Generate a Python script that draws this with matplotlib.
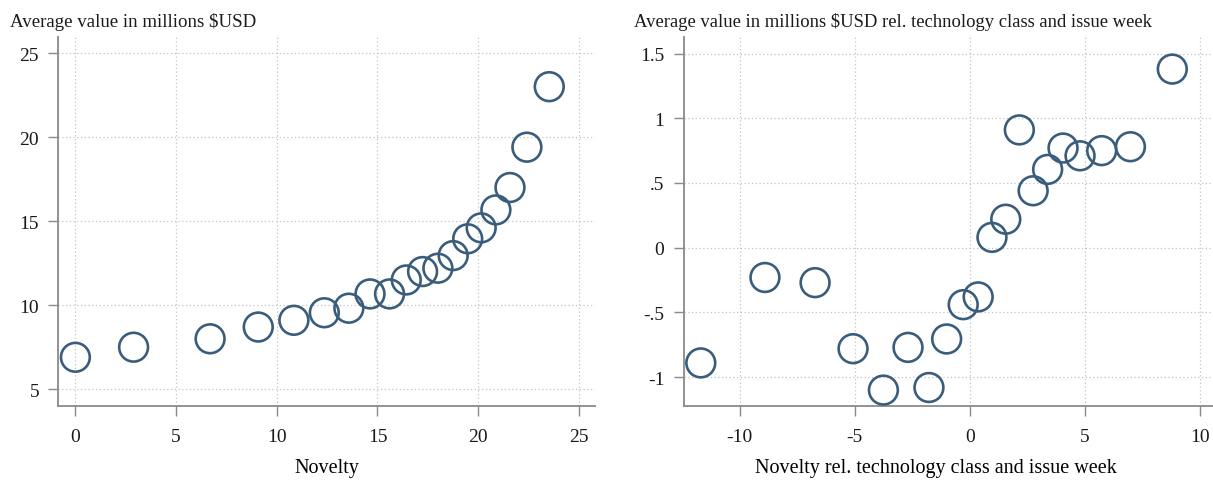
import matplotlib
matplotlib.use("Agg")
import matplotlib.pyplot as plt

# binned means: raw novelty vs value
novelty = [0.0, 2.89, 6.69, 9.08, 10.85, 12.36, 13.58, 14.63, 15.6, 16.43,
           17.24, 18.0, 18.76, 19.48, 20.15, 20.88, 21.58, 22.42, 23.53]
value = [6.9, 7.5, 8.0, 8.7, 9.1, 9.55, 9.82, 10.67, 10.67, 11.5,
         12.0, 12.2, 12.95, 13.95, 14.6, 15.67, 17.0, 19.4, 23.0]

# binned means: residualised on technology class and issue week
novelty_rel = [-11.69, -8.90, -6.72, -5.07, -3.75, -2.68, -1.77, -1.0, -0.28, 0.37,
               0.97, 1.57, 2.16, 2.76, 3.39, 4.06, 4.80, 5.74, 6.99, 8.81]
value_rel = [-0.89, -0.23, -0.27, -0.78, -1.10, -0.77, -1.08, -0.705, -0.44, -0.38,
             0.08, 0.22, 0.91, 0.44, 0.605, 0.77, 0.71, 0.75, 0.78, 1.38]

left_xticks = [0, 5, 10, 15, 20, 25]
left_yticks = [5, 10, 15, 20, 25]
right_xticks = [-10, -5, 0, 5, 10]
right_yticks = [-1, -0.5, 0, 0.5, 1, 1.5]
right_ylabels = ["-1", "-.5", "0", ".5", "1", "1.5"]

MARKER = "#3b5d7c"
AXIS = "#8a8a8a"
plt.rcParams["font.family"] = ["Liberation Serif", "DejaVu Serif"]
plt.rcParams["text.color"] = "#1a1a1a"
plt.rcParams["axes.unicode_minus"] = False

fig = plt.figure(figsize=(12.13, 4.81), dpi=100)
ax1 = fig.add_axes([0.0482, 0.1538, 0.4423, 0.767])
ax2 = fig.add_axes([0.5637, 0.1538, 0.4363, 0.767])


def style(ax):
    for side in ("top", "right"):
        ax.spines[side].set_visible(False)
    for side in ("left", "bottom"):
        ax.spines[side].set_color(AXIS)
        ax.spines[side].set_linewidth(1.3)
    ax.tick_params(direction="out", length=7, width=1.0, color=AXIS,
                   labelsize=14, pad=7, labelcolor="#1a1a1a")
    ax.tick_params(axis="x", pad=9)
    ax.grid(True, linestyle=(0, (1, 2)), color="#c4c4c4", linewidth=0.9)
    ax.set_axisbelow(True)


ax1.scatter(novelty, value, s=430, facecolors="none", edgecolors=MARKER,
            linewidths=1.9, zorder=3)
style(ax1)
ax1.set_xlim(-0.84, 25.8)
ax1.set_ylim(4.0, 25.95)
ax1.set_xticks(left_xticks)
ax1.set_yticks(left_yticks)
ax1.set_xlabel("Novelty", fontsize=14.5, labelpad=9)
fig.text(0.0082, 0.955, "Average value in millions $USD", fontsize=13.6, va="center")

ax2.scatter(novelty_rel, value_rel, s=430, facecolors="none", edgecolors=MARKER,
            linewidths=1.9, zorder=3)
style(ax2)
ax2.set_xlim(-12.43, 10.58)
ax2.set_ylim(-1.223, 1.627)
ax2.set_xticks(right_xticks)
ax2.set_yticks(right_yticks)
ax2.set_yticklabels(right_ylabels)
ax2.set_xlabel("Novelty rel. technology class and issue week", fontsize=14.5, labelpad=9)
ax2.xaxis.set_label_coords(0.476, -0.141)
fig.text(0.5227, 0.955, "Average value in millions $USD rel. technology class and issue week",
         fontsize=13.4, va="center")

fig.savefig("out.png", dpi=100)
